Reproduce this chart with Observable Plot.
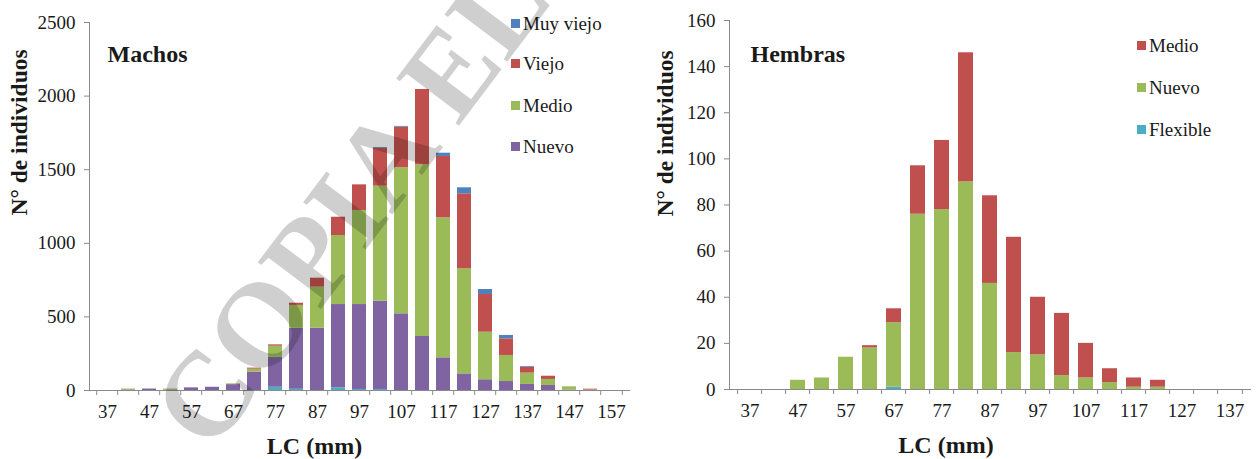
<!DOCTYPE html>
<html>
<head>
<meta charset="utf-8">
<script src="https://cdn.jsdelivr.net/npm/d3@7"></script>
<script src="https://cdn.jsdelivr.net/npm/@observablehq/plot@0.6"></script>
<style>
  html, body { margin: 0; padding: 0; background: #fff; overflow: hidden; }
  #fig { position: relative; width: 1258px; height: 459px; font-family: "Liberation Serif", "Times New Roman", serif; color: #1a1a1a; }
  .panel { position: absolute; top: 0; }
  .legend { position: absolute; font-size: 19px; line-height: 19px; }
  .legend .item { position: absolute; left: 0; white-space: nowrap; display: flex; align-items: center; }
  .legend .sw { width: 9px; height: 9px; margin-right: 3px; }
  .marca { position: absolute; left: 0; top: 0; pointer-events: none; }
</style>
</head>
<body>
<div id="fig"></div>
<script>
// Longitud cefalotorácica (LC, mm): marcas de clase cada 5 mm
const lcMachos = [37, 42, 47, 52, 57, 62, 67, 72, 77, 82, 87, 92, 97, 102, 107, 112, 117, 122, 127, 132, 137, 142, 147, 152, 157];
const lcHembras = [37, 42, 47, 52, 57, 62, 67, 72, 77, 82, 87, 92, 97, 102, 107, 112, 117, 122, 127, 132, 137];

// Machos: número de individuos por estado del caparazón
const flexibleM = [0, 0, 0, 0, 0, 0, 0, 0, 22, 8, 0, 18, 7, 7, 0, 0, 0, 0, 0, 0, 0, 0, 0, 0, 0];
const nuevoM    = [0, 4, 10, 3, 18, 22, 40, 125, 204, 415, 423, 566, 577, 600, 521, 367, 222, 113, 73, 61, 41, 34, 3, 0, 0];
const medioM    = [0, 6, 0, 7, 0, 0, 5, 20, 75, 155, 279, 469, 639, 781, 992, 1166, 951, 714, 323, 177, 77, 41, 22, 3, 0];
const viejoM    = [0, 0, 0, 0, 0, 0, 0, 7, 9, 15, 61, 124, 174, 258, 276, 512, 417, 509, 256, 113, 40, 22, 0, 6, 0];
const muyViejoM = [0, 0, 0, 0, 0, 0, 0, 0, 0, 0, 0, 0, 0, 5, 5, 0, 22, 41, 34, 23, 5, 0, 0, 0, 0];

// Hembras
const flexibleH = [0, 0, 0, 0, 0, 0, 1, 0, 0, 0, 0, 0, 0, 0, 0, 0, 0, 0, 0, 0, 0];
const nuevoH    = [0, 0, 4, 5, 14, 18, 28, 76, 78, 90, 46, 16, 15, 6, 5, 3, 1, 1, 0, 0, 0];
const medioH    = [0, 0, 0, 0, 0, 1, 6, 21, 30, 56, 38, 50, 25, 27, 15, 6, 4, 3, 0, 0, 0];

const ticksMachos = [0, 500, 1000, 1500, 2000, 2500];
const ticksHembras = [0, 20, 40, 60, 80, 100, 120, 140, 160];

// Orden de apilado (de abajo hacia arriba) y colores
const estadosM = ["Flexible", "Nuevo", "Medio", "Viejo", "Muy viejo"];
const coloresM = ["#4BACC6", "#8064A2", "#9BBB59", "#C0504D", "#4F81BD"];
const leyendaM = ["Muy viejo", "Viejo", "Medio", "Nuevo"];

const estadosH = ["Flexible", "Nuevo", "Medio"];
const coloresH = ["#4BACC6", "#9BBB59", "#C0504D"];
const leyendaH = ["Medio", "Nuevo", "Flexible"];

const ejeGris = "#8a8a8a";
const tinta = "#1a1a1a";

function filas(lc, series) {
  const out = [];
  for (const [estado, valores] of series) {
    lc.forEach((c, i) => out.push({lc: c, estado, n: valores[i]}));
  }
  return out;
}

function panel(cfg) {
  const {lc, rows, estados, colores, yMax, yTicks, width, ml, mr, mt, mb, pad, titulo, tituloPos, yTituloPos, xTituloPos} = cfg;
  const step = (width - ml - mr) / lc.length;
  return Plot.plot({
    width, height: 459,
    marginLeft: ml, marginRight: mr, marginTop: mt, marginBottom: mb,
    style: {fontFamily: "'Liberation Serif', 'Times New Roman', serif", fontSize: "19px", color: tinta, background: "transparent", overflow: "visible"},
    x: {type: "band", domain: lc, paddingInner: pad, paddingOuter: pad / 2},
    y: {domain: [0, yMax]},
    color: {type: "categorical", domain: estados, range: colores},
    marks: [
      Plot.barY(rows, {x: "lc", y: "n", fill: "estado", order: estados}),
      Plot.frame({anchor: "left", stroke: ejeGris}),
      Plot.frame({anchor: "bottom", stroke: ejeGris}),
      Plot.axisY({ticks: yTicks, tickSize: 5, tickPadding: 9, tickFormat: "d", stroke: ejeGris, fill: tinta, label: null}),
      // marcas de división entre clases
      Plot.axisX({ticks: lc, tickSize: 5, stroke: ejeGris, fill: "none", dx: -step / 2, label: null}),
      Plot.axisX({ticks: [lc[lc.length - 1]], tickSize: 5, stroke: ejeGris, fill: "none", dx: step / 2, label: null}),
      // etiquetas cada 10 mm
      Plot.axisX({ticks: lc.filter((d, i) => i % 2 === 0), tickSize: 0, tickPadding: 14, tickFormat: "d", fill: tinta, label: null}),
      Plot.text([titulo], {frameAnchor: "top-left", textAnchor: "start", lineAnchor: "bottom", dx: tituloPos[0], dy: tituloPos[1], fontWeight: "bold", fontSize: 24, fill: tinta}),
      Plot.text(["N° de individuos"], {frameAnchor: "left", rotate: -90, dx: yTituloPos[0], dy: yTituloPos[1], fontWeight: "bold", fontSize: 23.5, fill: tinta}),
      Plot.text(["LC (mm)"], {frameAnchor: "bottom", lineAnchor: "bottom", dx: xTituloPos[0], dy: xTituloPos[1], fontWeight: "bold", fontSize: 24, fill: tinta})
    ]
  });
}

function leyenda(items, estados, colores, left, centros) {
  const div = document.createElement("div");
  div.className = "legend";
  div.style.left = left + "px";
  div.style.top = "0px";
  items.forEach((nombre, k) => {
    const it = document.createElement("div");
    it.className = "item";
    it.style.top = (centros[k] - 9.5) + "px";
    const sw = document.createElement("span");
    sw.className = "sw";
    sw.style.background = colores[estados.indexOf(nombre)];
    const tx = document.createElement("span");
    tx.textContent = nombre;
    it.append(sw, tx);
    div.append(it);
  });
  return div;
}

const fig = document.getElementById("fig");

const rowsM = filas(lcMachos, [["Flexible", flexibleM], ["Nuevo", nuevoM], ["Medio", medioM], ["Viejo", viejoM], ["Muy viejo", muyViejoM]]);
const rowsH = filas(lcHembras, [["Flexible", flexibleH], ["Nuevo", nuevoH], ["Medio", medioH]]);

const izq = panel({
  lc: lcMachos, rows: rowsM, estados: estadosM, colores: coloresM,
  yMax: 2500, yTicks: ticksMachos,
  width: 640, ml: 89, mr: 11, mt: 22, mb: 69, pad: 0.33,
  titulo: "Machos", tituloPos: [18, 39], yTituloPos: [-70.5, 9], xTituloPos: [-45, 63]
});
izq.classList.add("panel");
izq.style.left = "0px";
fig.append(izq);

const der = panel({
  lc: lcHembras, rows: rowsH, estados: estadosH, colores: coloresH,
  yMax: 160, yTicks: ticksHembras,
  width: 618, ml: 89, mr: 8, mt: 20, mb: 70, pad: 0.36,
  titulo: "Hembras", tituloPos: [21, 41.5], yTituloPos: [-64, 11.5], xTituloPos: [-44, 63]
});
der.classList.add("panel");
der.style.left = "640px";
fig.append(der);

fig.append(leyenda(leyendaM, estadosM, coloresM, 511, [23, 63.5, 105.5, 146]));
fig.append(leyenda(leyendaH, estadosH, coloresH, 1137, [45, 87.5, 129.5]));

// Sello diagonal semitransparente sobre el panel izquierdo
const ns = "http://www.w3.org/2000/svg";
const sello = document.createElementNS(ns, "svg");
sello.setAttribute("class", "marca");
sello.setAttribute("width", 1258);
sello.setAttribute("height", 459);
const t = document.createElementNS(ns, "text");
t.setAttribute("x", 211);
t.setAttribute("y", 455);
t.setAttribute("transform", "rotate(-53 211 455)");
t.setAttribute("font-family", "'Liberation Serif', 'Times New Roman', serif");
t.setAttribute("font-weight", "bold");
t.setAttribute("font-size", 120);
t.setAttribute("fill", "#000");
t.setAttribute("fill-opacity", 0.19);
t.textContent = "COPIA ELECTRÓNICA";
sello.append(t);
fig.append(sello);
</script>
</body>
</html>
